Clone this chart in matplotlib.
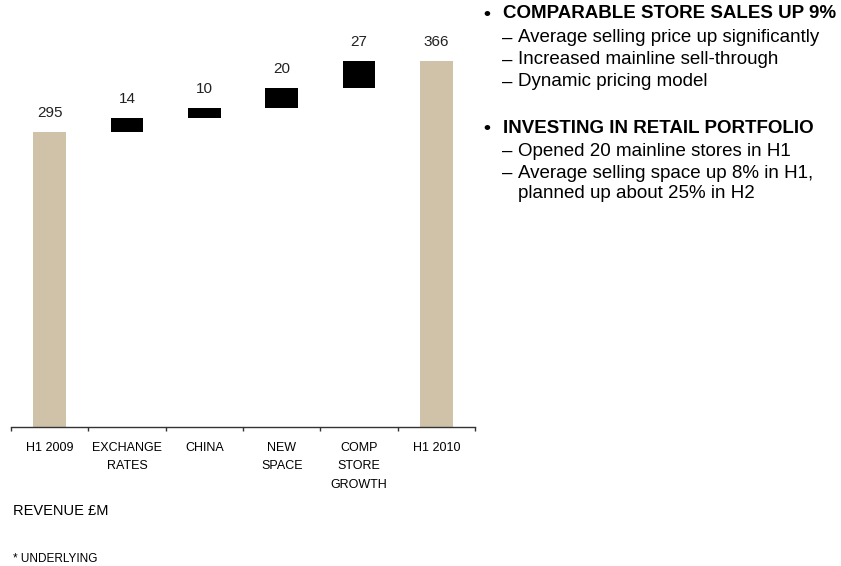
import matplotlib.pyplot as plt
import numpy as np

plt.rcParams['font.family'] = ['Liberation Sans', 'DejaVu Sans']

categories = ['H1 2009', 'EXCHANGE\nRATES', 'CHINA', 'NEW\nSPACE',
              'COMP\nSTORE\nGROWTH', 'H1 2010']
opening = 295
changes = [14, 10, 20, 27]
closing = 366

totals_color = '#D0C1A9'
step_color = '#000000'

# waterfall geometry: totals sit on zero, steps float on the running sum
bottoms = np.concatenate([[0], opening + np.cumsum([0] + changes[:-1]), [0]])
heights = np.array([opening] + changes + [closing])
colors = [totals_color] + [step_color] * len(changes) + [totals_color]

W, H = 841, 566
fig = plt.figure(figsize=(W / 100, H / 100), dpi=100)
# axes placed so one unit of revenue is about one pixel
ax = fig.add_axes([11 / W, (H - 427) / H, (475 - 11) / W, 400 / H])

x = np.arange(len(categories))
ax.bar(x, heights, bottom=bottoms, width=0.42, color=colors, linewidth=0)

for xi, b, h in zip(x, bottoms, heights):
    ax.annotate(f'{h:d}', (xi, b + h), xytext=(0, 13.5), textcoords='offset points',
                ha='center', va='center', fontsize=11, color='#222222')

ax.set_xlim(-0.5, len(categories) - 0.5)
ax.set_ylim(0, 400)
ax.set_yticks([])
for side in ['top', 'right', 'left']:
    ax.spines[side].set_visible(False)
ax.spines['bottom'].set_color('#333333')
ax.spines['bottom'].set_linewidth(1.0)

ax.set_xticks(x)
ax.set_xticklabels(categories, fontsize=9, linespacing=1.75, va='top')
ax.set_xticks(np.arange(-0.5, len(categories)), minor=True)
ax.tick_params(axis='x', which='major', length=0, pad=10.5)
ax.tick_params(axis='x', which='minor', length=3, color='#333333', width=1)

# notes on the right
notes = [
    (14, 'bold', '•', 'COMPARABLE STORE SALES UP 9%'),
    (38, 'normal', '–', 'Average selling price up significantly'),
    (60, 'normal', '–', 'Increased mainline sell-through'),
    (82, 'normal', '–', 'Dynamic pricing model'),
    (128, 'bold', '•', 'INVESTING IN RETAIL PORTFOLIO'),
    (151, 'normal', '–', 'Opened 20 mainline stores in H1'),
    (173, 'normal', '–', 'Average selling space up 8% in H1,'),
    (194, 'normal', '', 'planned up about 25% in H2'),
]
for ypx, weight, mark, line in notes:
    yf = 1 - ypx / H
    if weight == 'bold':
        fig.text(483 / W, yf, mark, fontsize=14, fontweight='bold', va='center')
        fig.text(503 / W, yf, line, fontsize=13.5, fontweight='bold', va='center')
    else:
        if mark:
            fig.text(502 / W, yf, mark, fontsize=13.5, va='center')
        fig.text(518 / W, yf, line, fontsize=13.5, va='center')

fig.text(13 / W, 1 - 511 / H, 'REVENUE £M', fontsize=10.5, va='center')
fig.text(13 / W, 1 - 559 / H, '* UNDERLYING', fontsize=8.5, va='center')

fig.savefig('out.png', dpi=100)
